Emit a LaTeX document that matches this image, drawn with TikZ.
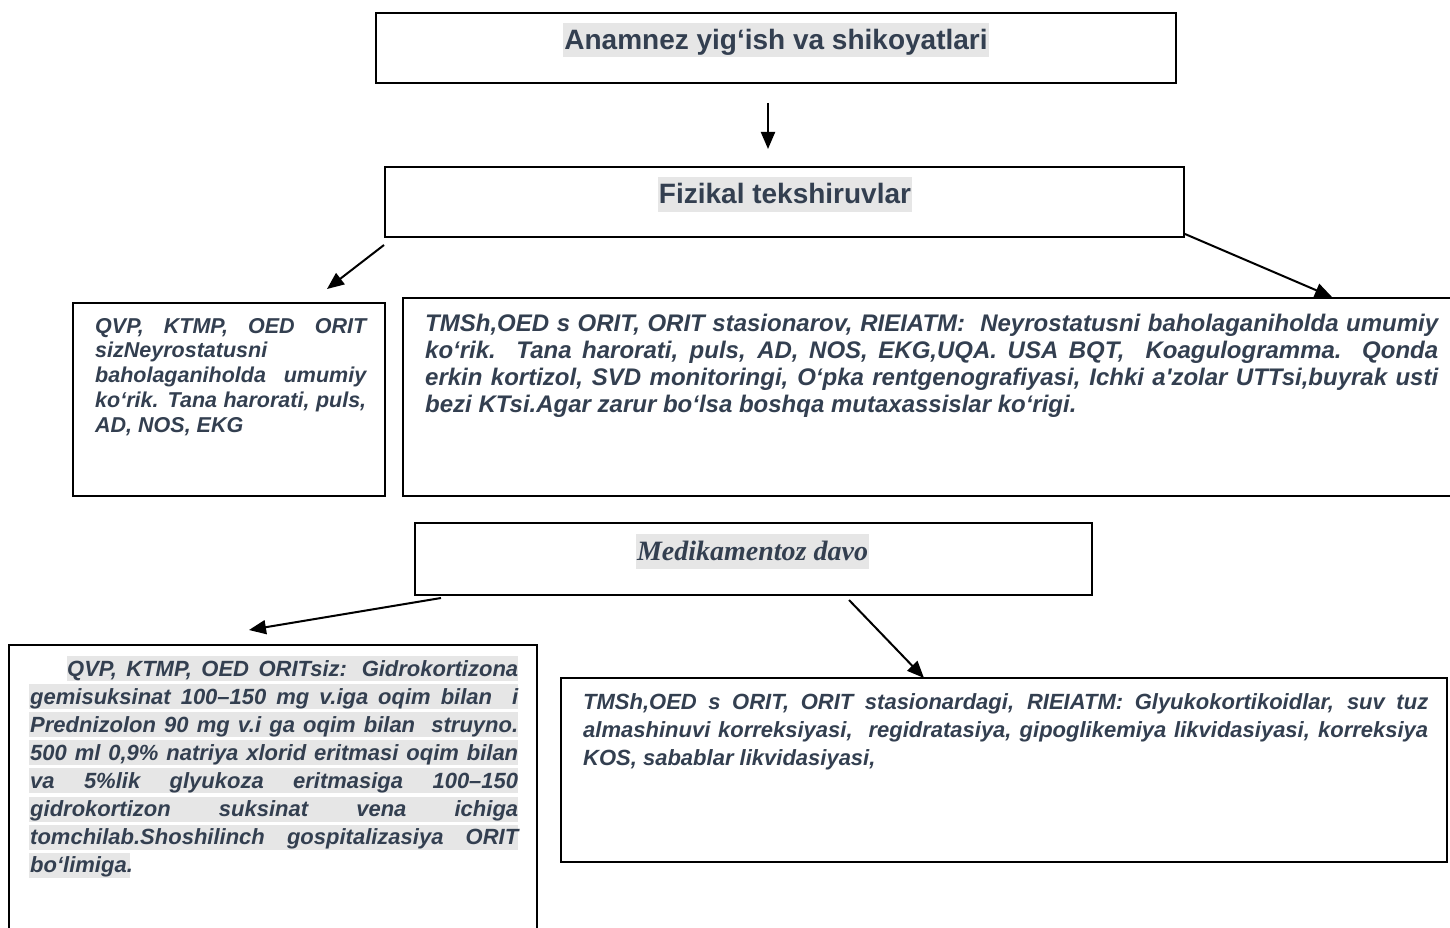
\documentclass[tikz,border=0pt]{standalone}
\usepackage{fontspec}
\setmainfont{Liberation Sans}
\newfontfamily\medserif{Liberation Serif}
\usetikzlibrary{arrows.meta}
\definecolor{txtblue}{RGB}{51,63,80}
\definecolor{hlgray}{RGB}{230,230,230}
\newcommand{\boxfont}[2]{\fontsize{#1}{#2}\selectfont\bfseries\itshape
  \tolerance=10000\hyphenpenalty=10000}

\begin{document}
\begin{tikzpicture}[x=1pt, y=-1pt,
    box/.style = {draw, line width=2pt, inner sep=0pt},
    title/.style = {fill=hlgray, text=txtblue, inner xsep=1pt, inner ysep=1.5pt,
      text height=25pt, text depth=6.5pt,
      font=\fontsize{28}{30}\selectfont\bfseries},
    body/.style = {text=txtblue, inner sep=0pt, anchor=base west, align=justify},
    arr/.style = {line width=2pt, -{Triangle[length=17pt,width=14pt]}}]

    \useasboundingbox (0,0) rectangle (1450,928);
    \clip (0,0) rectangle (1450,928);

    \node[box, minimum width=800pt, minimum height=70pt] (anam) at (776,48) {};
    \node[box, minimum width=799pt, minimum height=70pt] (fiz) at (784.5,202) {};
    \node[box, minimum width=312pt, minimum height=193pt] (qvp1) at (229,399.5) {};
    \node[box, minimum width=1067pt, minimum height=198pt] (tmsh1) at (936.5,397) {};
    \node[box, minimum width=677pt, minimum height=72pt] (med) at (753.5,559) {};
    \node[box, minimum width=528pt, minimum height=305pt] (qvp2) at (273,797.5) {};
    \node[box, minimum width=886pt, minimum height=184pt] (tmsh2) at (1004,770) {};

    \node[title] (anamtxt) at (776,40) {Anamnez yig‘ish va shikoyatlari};
    \node[title] (fiztxt) at (785,194.5) {Fizikal tekshiruvlar};
    \node[title, font=\medserif\fontsize{28}{30}\selectfont\bfseries\itshape]
      (medtxt) at (752.5,551.5) {Medikamentoz davo};

    \node[body, text width=271pt, font=\boxfont{21.5}{24.8}] (qvp1txt) at (95,333)
      {QVP, KTMP, OED ORIT\linebreak sizNeyrostatusni\newline
       baholaganiholda~ umumiy\linebreak ko‘rik. Tana harorati, puls,\linebreak
       AD, NOS, EKG};

    \node[body, text width=1013pt, font=\boxfont{24}{27.3}] (tmsh1txt) at (425,331)
      {TMSh,OED s ORIT, ORIT stasionarov, RIEIATM:~ Neyrostatusni baholaganiholda umumiy\linebreak
       ko‘rik. Tana harorati, puls, AD, NOS, EKG,UQA. USA BQT,~ Koagulogramma. Qonda\linebreak
       erkin kortizol, SVD monitoringi, O‘pka rentgenografiyasi, Ichki a\textquotesingle zolar UTTsi,buyrak usti\linebreak
       bezi KTsi.Agar zarur bo‘lsa boshqa mutaxassislar ko‘rigi.};

    \fill[hlgray] (67,656) rectangle (518,681);
    \foreach \k in {1,...,6}
      \fill[hlgray] (29,{656+28.1*\k}) rectangle (518,{681+28.1*\k});
    \fill[hlgray] (29,852.7) rectangle (130,877.7);

    \node[body, text width=488pt, font=\boxfont{22}{28.1}] (qvp2txt) at (30,676)
      {\hspace*{37pt}QVP, KTMP, OED ORITsiz: Gidrokortizona\linebreak
       gemisuksinat 100–150 mg v.iga oqim bilan~ i\linebreak
       Prednizolon 90 mg v.i ga oqim bilan~ struyno.\linebreak
       500 ml 0,9\% natriya xlorid eritmasi oqim bilan\linebreak
       va 5\%lik glyukoza eritmasiga 100–150\linebreak
       gidrokortizon suksinat vena ichiga\linebreak
       tomchilab.Shoshilinch gospitalizasiya ORIT\linebreak
       bo‘limiga.};

    \node[body, text width=845pt, font=\boxfont{22}{28}] (tmsh2txt) at (583,709)
      {TMSh,OED s ORIT, ORIT stasionardagi, RIEIATM: Glyukokortikoidlar, suv tuz\linebreak
       almashinuvi korreksiyasi,~ regidratasiya, gipoglikemiya likvidasiyasi, korreksiya\linebreak
       KOS, sabablar likvidasiyasi,};

    \draw[arr] ([shift={(-8,19)}]anam.south) -- ([shift={(-16.5,-17)}]fiz.north);
    \draw[arr] ([shift={(0,7)}]fiz.south west) -- ([shift={(-59,-13)}]qvp1.north east);
    \draw[arr] ([shift={(0,-4)}]fiz.south east) -- ([shift={(930,0)}]tmsh1.north west);
    \draw[arr] ([shift={(27,2)}]med.south west) -- ([shift={(241,-14)}]qvp2.north west);
    \draw[arr] ([shift={(95.5,4)}]med.south) -- ([shift={(364,1)}]tmsh2.north west);

  \end{tikzpicture}
\end{document}
